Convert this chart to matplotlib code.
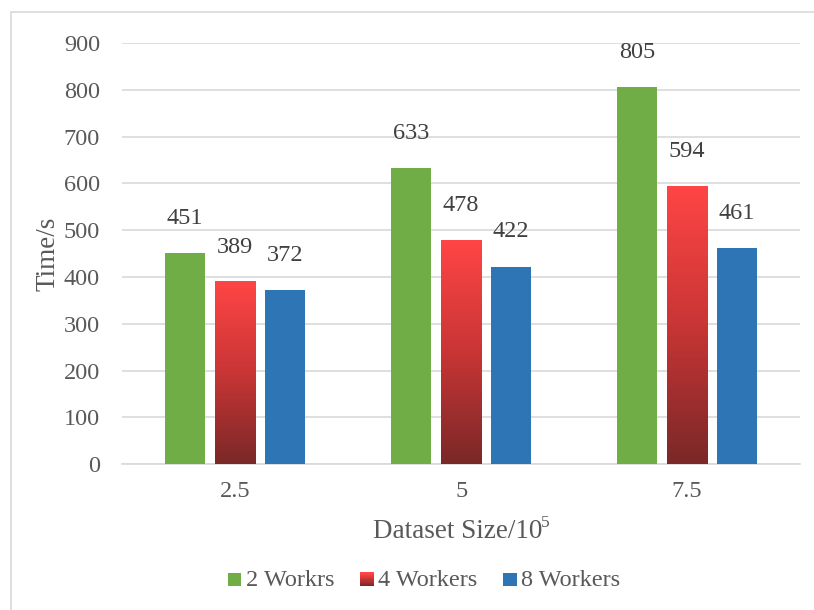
import numpy as np
import matplotlib
matplotlib.use("Agg")
import matplotlib.pyplot as plt
from matplotlib.patches import Rectangle
from matplotlib.legend_handler import HandlerBase
from matplotlib.colors import LinearSegmentedColormap

plt.rcParams['font.family'] = ['Liberation Serif']

sizes = ["2.5", "5", "7.5"]
workers = ["2 Workrs", "4 Workers", "8 Workers"]
time_2 = [451, 633, 805]
time_4 = [389, 478, 594]
time_8 = [372, 422, 461]

text_color = "#595959"
grid_color = "#d9d9d9"
green = "#70ad47"
blue = "#2e75b6"
red_cmap = LinearSegmentedColormap.from_list("red_grad", ["#7a2828", "#c93535", "#ff4545"])


class GradientHandler(HandlerBase):
    def create_artists(self, legend, orig_handle, xdescent, ydescent,
                       width, height, fontsize, trans):
        n = 12
        side = height * 0.8
        x0 = xdescent + width - side
        arts = []
        for i in range(n):
            r = Rectangle((x0, -ydescent + side * i / n), side, side / n + 0.05,
                          facecolor=red_cmap(i / (n - 1)), edgecolor="none",
                          transform=trans)
            arts.append(r)
        return arts


class SquareHandler(HandlerBase):
    def create_artists(self, legend, orig_handle, xdescent, ydescent,
                       width, height, fontsize, trans):
        side = height * 0.8
        r = Rectangle((xdescent + width - side, -ydescent), side, side,
                      facecolor=orig_handle.get_facecolor(), edgecolor="none",
                      transform=trans)
        return [r]


fig = plt.figure(figsize=(8.14, 6.10), dpi=100)
fig.patches.append(Rectangle((0.0135, -0.02), 1.0, 1.0, transform=fig.transFigure,
                             fill=False, edgecolor="#d9d9d9", linewidth=1.2))
ax = fig.add_axes([0.150, 0.239, 0.833, 0.6905])

x = np.arange(len(sizes))
w = 0.177
step = 0.221
bars_g = ax.bar(x - step, time_2, w, color=green, zorder=3)
bars_r = ax.bar(x, time_4, w, color="none", zorder=3)
bars_b = ax.bar(x + step, time_8, w, color=blue, zorder=3)

# gradient fill for the 4-worker bars
grad = np.linspace(0, 1, 256).reshape(-1, 1)
for b in bars_r:
    bx, by = b.get_x(), b.get_y()
    bw, bh = b.get_width(), b.get_height()
    ax.imshow(grad, cmap=red_cmap, origin="lower", aspect="auto",
              extent=[bx, bx + bw, by, by + bh], zorder=3)
ax.set_xlim(-0.5, 2.5)
ax.set_ylim(0, 900)

for bars, vals in [(bars_g, time_2), (bars_r, time_4), (bars_b, time_8)]:
    for b, v in zip(bars, vals):
        ax.annotate(str(v), (b.get_x() + b.get_width() / 2, v),
                    xytext=(0, 25), textcoords="offset points",
                    ha="center", va="center", fontsize=17.5, color="#404040")

ax.set_yticks(range(0, 901, 100))
ax.set_xticks(x)
ax.set_xticklabels(sizes)
ax.tick_params(length=0, labelsize=17.5, colors=text_color)
ax.tick_params(axis="y", pad=16)
ax.tick_params(axis="x", pad=12)
ax.yaxis.grid(True, color=grid_color, linewidth=1.2, zorder=0)
ax.set_axisbelow(True)
for s in ["top", "right", "left"]:
    ax.spines[s].set_visible(False)
ax.spines["bottom"].set_color(grid_color)
ax.spines["bottom"].set_linewidth(1.2)

ax.set_ylabel("Time/s", fontsize=19.5, color=text_color, labelpad=2)

# x label with a small superscript exponent
xl = fig.text(0.458, 0.118, "Dataset Size/10", fontsize=19.5, color=text_color,
              ha="left", va="baseline")
fig.canvas.draw()
ext = xl.get_window_extent()
fig.text(ext.x1 / fig.bbox.width - 0.001, 0.136, "5", fontsize=12.5, color=text_color,
         ha="left", va="baseline")

h_g = Rectangle((0, 0), 1, 1, facecolor=green)
h_r = Rectangle((0, 0), 1, 1, facecolor="red")
h_b = Rectangle((0, 0), 1, 1, facecolor=blue)
leg = fig.legend([h_g, h_r, h_b], workers, loc="center", bbox_to_anchor=(0.522, 0.049),
                 ncol=3, frameon=False, fontsize=17.5, handlelength=0.5, handletextpad=0.2,
                 columnspacing=1.1,
                 handler_map={h_g: SquareHandler(), h_r: GradientHandler(), h_b: SquareHandler()})
for t in leg.get_texts():
    t.set_color(text_color)

fig.savefig("out.png", dpi=100)
